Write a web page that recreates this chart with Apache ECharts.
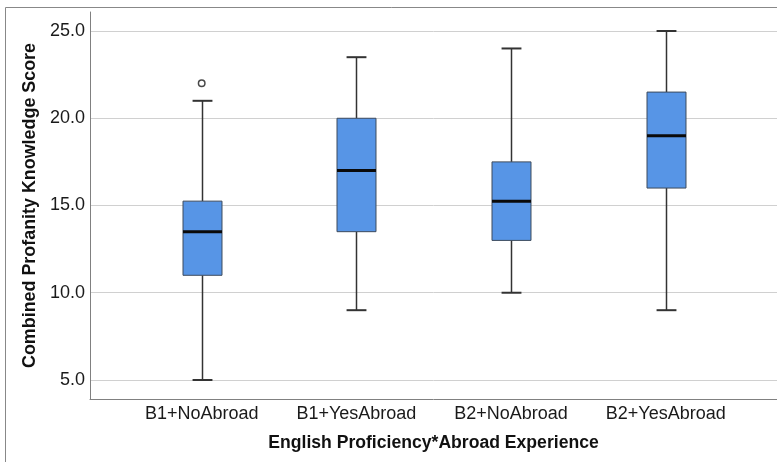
<!DOCTYPE html>
<html>
<head>
<meta charset="utf-8">
<script src="https://cdn.jsdelivr.net/npm/echarts@6/dist/echarts.min.js"></script>
<style>html,body{margin:0;padding:0;background:#fff;}#c{width:777px;height:462px;}</style>
</head>
<body>
<div id="c"></div>
<script>
const categories = ['B1+NoAbroad', 'B1+YesAbroad', 'B2+NoAbroad', 'B2+YesAbroad'];
const whiskerLow = [5, 9, 10, 9];
const q1 = [11, 13.5, 13, 16];
const median = [13.5, 17, 15.25, 19];
const q3 = [15.25, 20, 17.5, 21.5];
const whiskerHigh = [21, 23.5, 24, 25];
const outliers = [[0, 22]];
const yTitle = 'Combined Profanity Knowledge Score';
const xTitle = 'English Proficiency*Abroad Experience';

const boxData = categories.map((c, i) => [i, whiskerLow[i], q1[i], median[i], q3[i], whiskerHigh[i]]);
const FONT = '"Liberation Sans", Arial, sans-serif';
const Y_MIN = 3.91, Y_MAX = 26.09;

const chart = echarts.init(document.getElementById('c'), null, {renderer: 'canvas'});
chart.setOption({
  backgroundColor: '#fff',
  animation: false,
  graphic: [
    {type: 'line', shape: {x1: 5.5, y1: 7.5, x2: 777, y2: 7.5}, style: {stroke: '#888', lineWidth: 1}},
    {type: 'line', shape: {x1: 5.5, y1: 7.5, x2: 5.5, y2: 462}, style: {stroke: '#888', lineWidth: 1}}
  ],
  grid: [
    {left: 90, top: 12, right: 0, bottom: 63, containLabel: false},
    {left: 124.35, top: 12, width: 618.7, bottom: 63, containLabel: false}
  ],
  xAxis: [
    {
      gridIndex: 0, type: 'value', min: 0, max: 1,
      axisLine: {show: true, lineStyle: {color: '#808080', width: 1}},
      axisTick: {show: false}, axisLabel: {show: false}, splitLine: {show: false},
      name: xTitle, nameLocation: 'middle', nameGap: 35,
      nameTextStyle: {fontFamily: FONT, fontSize: 17.6, fontWeight: 'bold', color: '#111'}
    },
    {
      gridIndex: 1, type: 'category', data: categories,
      axisLine: {show: false}, axisTick: {show: false}, splitLine: {show: false},
      axisLabel: {interval: 0, hideOverlap: false, margin: 6, fontFamily: FONT, fontSize: 18, color: '#1a1a1a'}
    }
  ],
  yAxis: [
    {
      gridIndex: 0, type: 'value', min: Y_MIN, max: Y_MAX,
      axisLine: {show: true, lineStyle: {color: '#808080', width: 1}},
      axisTick: {show: false},
      axisLabel: {
        margin: 5, fontFamily: FONT, fontSize: 18, color: '#1a1a1a',
        showMinLabel: false, showMaxLabel: false,
        formatter: v => v.toFixed(1)
      },
      splitLine: {show: true, showMinLine: false, showMaxLine: false, lineStyle: {color: '#d0d0d0', width: 1}},
      name: yTitle, nameLocation: 'middle', nameGap: 51,
      nameTextStyle: {fontFamily: FONT, fontSize: 17.9, fontWeight: 'bold', color: '#111'}
    },
    {
      gridIndex: 1, type: 'value', min: Y_MIN, max: Y_MAX, show: false,
      splitLine: {show: false}
    }
  ],
  series: [
    {
      type: 'custom',
      xAxisIndex: 1, yAxisIndex: 1,
      data: boxData,
      encode: {x: 0, y: [1, 2, 3, 4, 5]},
      renderItem: function (params, api) {
        const x = api.value(0);
        const pLow = api.coord([x, api.value(1)]);
        const pQ1 = api.coord([x, api.value(2)]);
        const pMed = api.coord([x, api.value(3)]);
        const pQ3 = api.coord([x, api.value(4)]);
        const pHigh = api.coord([x, api.value(5)]);
        const band = api.size([1, 0])[0];
        const bw = band * 0.252;
        const cw = bw * 0.51;
        const cx = Math.round(pLow[0]) + 0.5;
        const whiskerStyle = {stroke: '#333', lineWidth: 1.5};
        const capStyle = {stroke: '#333', lineWidth: 2};
        return {
          type: 'group',
          children: [
            {type: 'line', shape: {x1: cx, y1: pLow[1], x2: cx, y2: pQ1[1]}, style: whiskerStyle},
            {type: 'line', shape: {x1: cx, y1: pQ3[1], x2: cx, y2: pHigh[1]}, style: whiskerStyle},
            {type: 'line', shape: {x1: cx - cw / 2, y1: pLow[1], x2: cx + cw / 2, y2: pLow[1]}, style: capStyle},
            {type: 'line', shape: {x1: cx - cw / 2, y1: pHigh[1], x2: cx + cw / 2, y2: pHigh[1]}, style: capStyle},
            {type: 'rect', shape: {x: cx - bw / 2, y: pQ3[1], width: bw, height: pQ1[1] - pQ3[1]},
              style: {fill: '#5795E6', stroke: '#3d4a5c', lineWidth: 1}},
            {type: 'line', shape: {x1: cx - bw / 2, y1: pMed[1], x2: cx + bw / 2, y2: pMed[1]},
              style: {stroke: '#0a0a0a', lineWidth: 3}}
          ]
        };
      },
      z: 3
    },
    {
      type: 'scatter',
      xAxisIndex: 1, yAxisIndex: 1,
      data: outliers,
      symbol: 'circle', symbolSize: 6.5,
      itemStyle: {color: '#fff', borderColor: '#1a1a1a', borderWidth: 1.5},
      z: 4
    }
  ]
});
</script>
</body>
</html>
